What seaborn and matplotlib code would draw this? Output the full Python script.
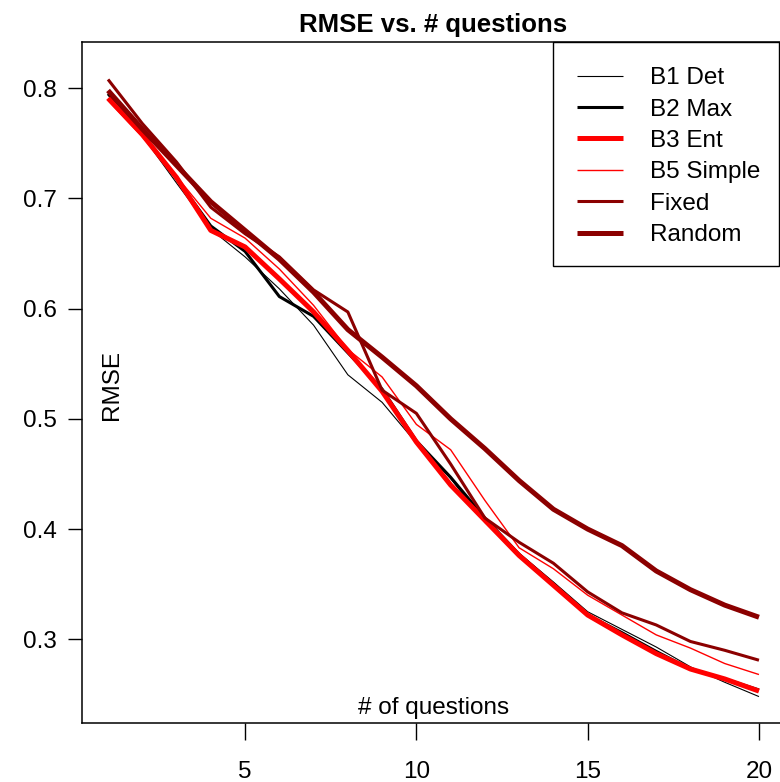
import matplotlib
matplotlib.use("Agg")
import matplotlib.pyplot as plt
from matplotlib.patches import Rectangle
import seaborn as sns
import pandas as pd

# Number of questions asked
questions = list(range(1, 21))

# RMSE per strategy
b1_det = [0.795, 0.757, 0.714, 0.672, 0.647, 0.618, 0.585, 0.540, 0.515, 0.478,
          0.446, 0.406, 0.378, 0.352, 0.325, 0.309, 0.293, 0.275, 0.261, 0.248]
b2_max = [0.795, 0.758, 0.718, 0.675, 0.652, 0.611, 0.593, 0.560, 0.527, 0.480,
          0.447, 0.410, 0.377, 0.350, 0.322, 0.306, 0.289, 0.273, 0.264, 0.254]
b3_ent = [0.791, 0.758, 0.719, 0.671, 0.656, 0.627, 0.597, 0.562, 0.525, 0.479,
          0.440, 0.408, 0.376, 0.349, 0.322, 0.304, 0.287, 0.273, 0.264, 0.253]
b5_simple = [0.789, 0.756, 0.720, 0.682, 0.664, 0.636, 0.603, 0.563, 0.538, 0.495,
             0.472, 0.426, 0.383, 0.364, 0.340, 0.322, 0.304, 0.292, 0.278, 0.268]
fixed = [0.808, 0.768, 0.733, 0.692, 0.668, 0.647, 0.617, 0.597, 0.526, 0.505,
         0.459, 0.410, 0.388, 0.369, 0.343, 0.324, 0.313, 0.298, 0.290, 0.281]
random_q = [0.798, 0.763, 0.730, 0.697, 0.671, 0.645, 0.615, 0.581, 0.556, 0.530,
            0.500, 0.473, 0.444, 0.418, 0.400, 0.385, 0.362, 0.345, 0.331, 0.320]

series_names = ["B1 Det", "B2 Max", "B3 Ent", "B5 Simple", "Fixed", "Random"]
series_values = [b1_det, b2_max, b3_ent, b5_simple, fixed, random_q]
series_colors = ["black", "black", "#ff0000", "#ff0000", "#8b0000", "#8b0000"]
series_widths = [0.8, 2.2, 3.6, 1.0, 2.2, 3.6]

df = pd.DataFrame({
    "questions": questions * len(series_names),
    "rmse": [v for vals in series_values for v in vals],
    "method": [n for n in series_names for _ in questions],
})

sns.set_style("ticks")
plt.rcParams["font.family"] = ["Liberation Sans", "DejaVu Sans"]
plt.rcParams.update({
    "text.color": "black",
    "axes.labelcolor": "black",
    "xtick.color": "black",
    "ytick.color": "black",
    "axes.edgecolor": "black",
})

W, H = 780, 782
fig = plt.figure(figsize=(W / 100, H / 100), dpi=100)
left, right, top, bottom = 82, 785, 42.3, 722.7
ax = fig.add_axes([left / W, 1 - bottom / H, (right - left) / W, (bottom - top) / H])

for name, color, lw in zip(series_names, series_colors, series_widths):
    sns.lineplot(data=df[df["method"] == name], x="questions", y="rmse",
                 color=color, linewidth=lw, label=name, ax=ax,
                 errorbar=None, solid_capstyle="butt")

ax.set_xlim(0.24, 20.76)
ax.set_ylim(0.2243, 0.8417)
ax.set_xticks([5, 10, 15, 20])
ax.set_yticks([0.3, 0.4, 0.5, 0.6, 0.7, 0.8])
ax.set_yticklabels(["0.3", "0.4", "0.5", "0.6", "0.7", "0.8"])

for s in ax.spines.values():
    s.set_linewidth(1.1)
    s.set_color("black")

ax.tick_params(axis="x", direction="out", length=12, width=1.0, pad=15.5,
               labelsize=17.5, colors="black")
ax.tick_params(axis="y", direction="out", length=10, width=1.0, pad=8,
               labelsize=17.5, colors="black")

ax.set_title("RMSE vs. # questions", fontsize=18.5, fontweight="bold", pad=7.6,
             color="black")

ax.set_xlabel("# of questions", fontsize=17.5, va="center", color="black")
ax.xaxis.set_label_coords(0.5, (bottom - 708) / (bottom - top))
ax.set_ylabel("RMSE", fontsize=17.5, va="center", color="black")
ax.yaxis.set_label_coords((111.7 - left) / (right - left), (bottom - 385) / (bottom - top))

fs_px = 17.5 * 100 / 72
leg = ax.legend(loc="upper left", bbox_to_anchor=(577 / W, 1 - 67 / H),
                bbox_transform=fig.transFigure, frameon=False, fontsize=17.5,
                borderpad=0, borderaxespad=0, handlelength=46 / fs_px,
                handletextpad=27 / fs_px, labelspacing=0.39, labelcolor="black")

fig.patches.append(Rectangle((553 / W, 1 - 266 / H), (779 - 553) / W, (266 - 41.7) / H,
                             transform=fig.transFigure, fill=False,
                             edgecolor="black", linewidth=1.0))

fig.savefig("out.png", dpi=100)
